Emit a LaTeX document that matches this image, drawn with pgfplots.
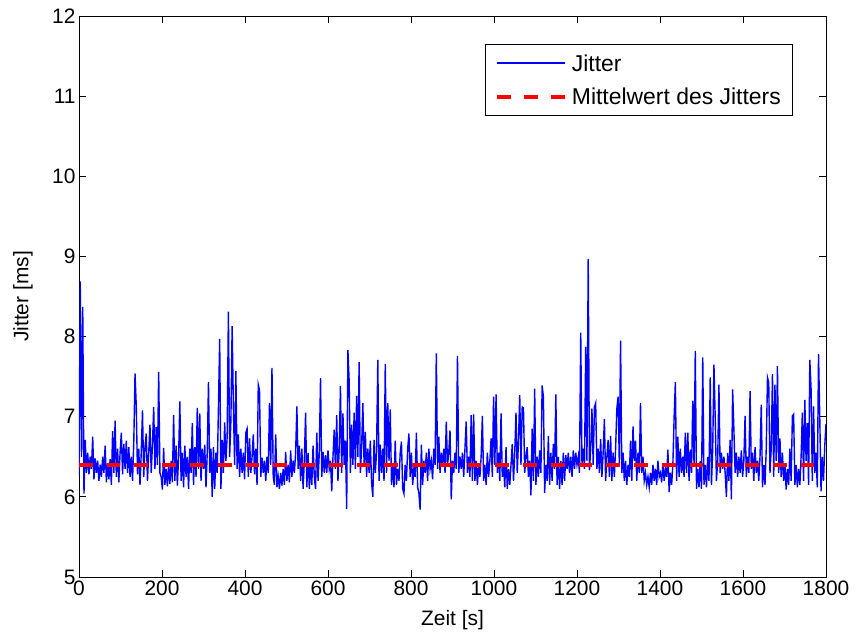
\documentclass[border=0pt]{standalone}
\usepackage{fontspec}
\setmainfont{Liberation Sans}
\usepackage{pgfplots}
\pgfplotsset{compat=1.18}
\begin{document}
\begin{tikzpicture}
\begin{axis}[
 at={(0,0)}, anchor=south west,
 scale only axis, width=747bp, height=561bp,
 xmin=0, xmax=1800, ymin=5, ymax=12,
 xtick={0,200,...,1800}, ytick={5,6,...,12},
 tick align=inside, major tick length=7bp,
 axis line style={line width=0.8bp},
 every tick/.style={black, line width=0.8bp},
 tick label style={font=\fontsize{21}{25}\selectfont},
 /pgf/number format/assume math mode=true,
 /pgf/number format/1000 sep={},
 xlabel={Zeit [s]}, ylabel={Jitter [ms]},
 label style={font=\fontsize{21}{25}\selectfont},
 xlabel style={at={(axis description cs:0.5,-0.0766)}, anchor=center},
 ylabel style={at={(axis description cs:-0.075,0.5)}, anchor=center},
 legend style={at={(0.956,0.950)}, anchor=north east, font=\fontsize{23}{27}\selectfont, draw=black, line width=0.8bp, inner xsep=10bp, inner ysep=8bp, row sep=11bp},
 legend cell align=left,
]
\addplot[blue, line width=1.4bp, legend image code/.code={\draw[color=blue, draw=blue, line width=1.5bp] (0bp,0.5bp) -- (68bp,0.5bp); \path (71bp,0bp);}] coordinates {
(0,6.25)(3,8.69)(6,6.50)(9,8.37)(12,6.04)(15,6.71)(18,6.30)(21,6.55)(24,6.28)(27,6.50)
(30,6.35)(33,6.75)(36,6.22)(39,6.48)(42,6.30)(45,6.45)(48,6.20)(51,6.40)(54,6.25)(57,6.50)
(60,6.30)(63,6.64)(66,6.18)(69,6.42)(72,6.22)(75,6.47)(78,6.15)(81,6.82)(84,6.30)(87,6.95)
(90,6.25)(93,6.60)(96,6.18)(99,6.55)(102,6.80)(105,6.28)(108,6.66)(111,6.35)(114,6.70)(117,6.30)
(120,6.62)(123,6.25)(126,6.50)(129,6.20)(132,6.68)(135,7.54)(138,7.13)(141,6.28)(144,6.60)(147,6.15)
(150,6.55)(153,7.08)(156,6.25)(159,6.62)(162,6.79)(165,6.20)(168,6.55)(171,6.90)(174,6.30)(177,6.65)
(180,7.12)(183,6.35)(186,6.87)(189,6.40)(192,7.56)(195,6.30)(198,6.25)(201,6.09)(204,6.61)(207,6.15)
(210,6.35)(213,6.13)(216,6.40)(219,6.16)(222,6.45)(225,6.18)(228,7.02)(231,6.20)(234,6.64)(237,6.14)
(240,6.50)(243,7.19)(246,6.20)(249,6.55)(252,6.12)(255,6.64)(258,6.25)(261,6.50)(264,6.10)(267,6.60)
(270,6.30)(273,6.92)(276,6.15)(279,6.62)(282,6.25)(285,7.11)(288,6.35)(291,7.04)(294,6.20)(297,6.60)
(300,6.35)(303,6.65)(306,6.12)(309,6.55)(312,7.43)(315,6.30)(318,6.60)(321,6.00)(324,6.62)(327,6.10)
(330,6.55)(333,6.30)(336,7.11)(339,7.97)(342,6.10)(345,6.71)(348,6.30)(351,6.93)(354,6.45)(357,6.75)
(360,8.31)(363,6.50)(366,6.95)(369,8.13)(372,7.13)(375,6.40)(378,7.57)(381,6.35)(384,6.78)(387,6.25)
(390,6.60)(393,6.30)(396,6.55)(399,6.22)(402,6.80)(405,6.85)(408,6.25)(411,6.73)(414,6.30)(417,6.50)
(420,6.78)(423,6.28)(426,6.60)(429,6.15)(432,7.40)(435,7.33)(438,6.25)(441,6.49)(444,6.30)(447,6.45)
(450,6.20)(453,6.50)(456,6.30)(459,7.17)(462,6.40)(465,7.61)(468,6.25)(471,6.15)(474,6.78)(477,6.12)
(480,6.25)(483,6.10)(486,6.30)(489,6.14)(492,6.35)(495,6.15)(498,6.56)(501,6.20)(504,6.40)(507,6.18)
(510,6.58)(513,6.25)(516,6.45)(519,6.30)(522,6.55)(525,7.13)(528,6.35)(531,6.64)(534,6.20)(537,6.60)
(540,6.10)(543,6.45)(546,7.05)(549,6.12)(552,6.55)(555,6.10)(558,6.40)(561,6.15)(564,6.64)(567,6.25)
(570,6.10)(573,6.80)(576,6.20)(579,6.55)(582,7.48)(585,6.25)(588,6.56)(591,6.30)(594,6.52)(597,6.30)
(600,6.58)(603,6.35)(606,6.45)(609,6.07)(612,6.50)(615,6.84)(618,6.35)(621,7.02)(624,6.20)(627,6.60)
(630,7.38)(633,6.30)(636,7.04)(639,6.40)(642,6.70)(645,5.85)(648,7.83)(651,7.44)(654,6.30)(657,6.90)
(660,6.40)(663,7.05)(666,6.35)(669,7.26)(672,6.50)(675,7.68)(678,6.30)(681,6.62)(684,7.17)(687,6.40)
(690,6.81)(693,6.25)(696,6.60)(699,6.30)(702,6.70)(705,6.18)(708,6.00)(711,6.71)(714,6.30)(717,6.55)
(720,7.71)(723,6.20)(726,6.65)(729,6.30)(732,6.60)(735,6.20)(738,7.66)(741,6.30)(744,7.17)(747,6.45)
(750,7.09)(753,6.15)(756,6.40)(759,6.12)(762,6.70)(765,6.15)(768,6.35)(771,6.20)(774,6.55)(777,6.69)
(780,6.10)(783,6.04)(786,6.40)(789,6.20)(792,6.60)(795,6.79)(798,6.25)(801,6.55)(804,6.15)(807,6.35)
(810,6.25)(813,6.80)(816,6.12)(819,6.05)(822,5.84)(825,6.65)(828,6.15)(831,6.45)(834,6.30)(837,6.55)
(840,6.20)(843,6.60)(846,6.35)(849,6.45)(852,6.22)(855,6.60)(858,6.40)(861,7.79)(864,6.35)(867,6.75)
(870,6.30)(873,6.55)(876,6.40)(879,6.60)(882,6.30)(885,6.94)(888,6.40)(891,6.55)(894,6.83)(897,5.97)
(900,6.45)(903,6.30)(906,6.55)(909,6.35)(912,7.76)(915,6.30)(918,6.50)(921,6.35)(924,6.55)(927,6.25)
(930,6.60)(933,6.94)(936,6.30)(939,6.50)(942,6.25)(945,7.02)(948,6.20)(951,7.03)(954,6.20)(957,6.45)
(960,6.15)(963,6.40)(966,6.25)(969,6.50)(972,7.01)(975,6.20)(978,6.40)(981,6.15)(984,6.55)(987,6.25)
(990,6.45)(993,6.73)(996,6.25)(999,7.25)(1002,6.40)(1005,7.28)(1008,6.30)(1011,6.55)(1014,6.20)(1017,7.04)
(1020,6.25)(1023,6.40)(1026,6.12)(1029,6.62)(1032,6.10)(1035,6.35)(1038,6.15)(1041,6.40)(1044,6.66)(1047,6.20)
(1050,6.55)(1053,7.05)(1056,6.30)(1059,6.70)(1062,7.27)(1065,6.40)(1068,7.12)(1071,7.11)(1074,6.30)(1077,6.50)
(1080,6.62)(1083,6.25)(1086,6.45)(1089,6.02)(1092,6.85)(1095,6.20)(1098,7.35)(1101,6.15)(1104,6.50)(1107,6.25)
(1110,6.58)(1113,6.30)(1116,7.39)(1119,7.25)(1122,6.05)(1125,6.40)(1128,6.20)(1131,6.76)(1134,6.15)(1137,6.55)
(1140,6.20)(1143,6.66)(1146,6.35)(1149,7.28)(1152,6.15)(1155,6.50)(1158,6.10)(1161,6.45)(1164,6.15)(1167,6.55)
(1170,6.20)(1173,6.52)(1176,6.35)(1179,6.55)(1182,6.30)(1185,6.50)(1188,6.25)(1191,6.58)(1194,6.35)(1197,6.55)
(1200,6.40)(1203,6.50)(1206,6.30)(1209,8.05)(1212,6.40)(1215,6.60)(1218,6.35)(1221,7.87)(1224,6.45)(1227,8.97)
(1230,6.33)(1233,6.60)(1236,7.10)(1239,6.40)(1242,7.12)(1245,7.17)(1248,6.35)(1251,6.60)(1254,6.30)(1257,6.72)
(1260,6.25)(1263,6.55)(1266,6.97)(1269,6.20)(1272,6.50)(1275,6.71)(1278,6.25)(1281,6.76)(1284,6.20)(1287,6.55)
(1290,6.25)(1293,6.60)(1296,7.10)(1299,7.25)(1302,6.40)(1305,7.95)(1308,6.30)(1311,6.55)(1314,6.20)(1317,6.45)
(1320,6.15)(1323,6.40)(1326,6.25)(1329,6.70)(1332,6.20)(1335,6.88)(1338,6.45)(1341,6.70)(1344,6.20)(1347,6.55)
(1350,6.30)(1353,7.17)(1356,6.30)(1359,6.50)(1362,6.20)(1365,6.30)(1368,6.15)(1371,6.25)(1374,6.12)(1377,6.30)
(1380,6.15)(1383,6.40)(1386,6.20)(1389,6.35)(1392,6.15)(1395,6.45)(1398,6.25)(1401,6.30)(1404,6.18)(1407,6.42)
(1410,6.20)(1413,6.35)(1416,6.25)(1419,6.59)(1422,6.06)(1425,6.30)(1428,6.15)(1431,6.40)(1434,6.99)(1437,7.43)
(1440,6.20)(1443,6.75)(1446,6.25)(1449,6.60)(1452,6.30)(1455,6.50)(1458,6.25)(1461,6.80)(1464,6.30)(1467,6.80)
(1470,6.20)(1473,6.59)(1476,6.30)(1479,7.20)(1482,6.40)(1485,7.82)(1488,6.10)(1491,6.35)(1494,6.12)(1497,6.45)
(1500,6.10)(1503,7.74)(1506,6.15)(1509,6.40)(1512,6.12)(1515,6.50)(1518,6.20)(1521,7.49)(1524,6.15)(1527,6.60)
(1530,7.65)(1533,6.99)(1536,6.20)(1539,6.45)(1542,7.40)(1545,6.30)(1548,6.55)(1551,6.35)(1554,6.50)(1557,6.30)
(1560,6.00)(1563,6.55)(1566,6.20)(1569,6.71)(1572,5.97)(1575,7.34)(1578,6.85)(1581,6.30)(1584,6.55)(1587,6.25)
(1590,6.50)(1593,6.30)(1596,6.58)(1599,6.25)(1602,6.45)(1605,7.01)(1608,6.25)(1611,6.50)(1614,6.30)(1617,7.32)
(1620,6.35)(1623,6.55)(1626,6.20)(1629,6.62)(1632,6.30)(1635,6.45)(1638,6.20)(1641,6.50)(1644,7.15)(1647,6.12)
(1650,6.40)(1653,6.15)(1656,6.60)(1659,7.49)(1662,7.43)(1665,6.30)(1668,6.60)(1671,7.53)(1674,6.25)(1677,7.40)
(1680,6.45)(1683,7.63)(1686,6.30)(1689,6.73)(1692,6.25)(1695,6.55)(1698,6.20)(1701,6.40)(1704,6.09)(1707,6.35)
(1710,6.15)(1713,6.60)(1716,6.20)(1719,7.01)(1722,7.03)(1725,6.15)(1728,6.40)(1731,6.12)(1734,6.35)(1737,6.15)
(1740,6.50)(1743,7.05)(1746,6.20)(1749,7.21)(1752,6.45)(1755,6.92)(1758,6.15)(1761,7.71)(1764,7.35)(1767,6.20)
(1770,7.13)(1773,6.30)(1776,6.55)(1779,6.12)(1782,7.78)(1785,6.98)(1788,6.07)(1791,6.50)(1794,6.20)(1797,6.64)
(1800,6.91)
};
\addlegendentry{Jitter}
\addplot[red, line width=4bp, dash pattern=on 13.75bp off 14bp, legend image code/.code={\draw[red, line width=4bp, dash pattern=on 13.75bp off 13.5bp] (0bp,0bp) -- (68bp,0bp); \path (71bp,0bp);}] coordinates {(0,6.4) (1800,6.4)};
\addlegendentry{Mittelwert des Jitters}
\end{axis}
\pgfresetboundingbox
\path[use as bounding box] (-79bp,-58bp) rectangle (780bp,577bp);
\end{tikzpicture}
\end{document}
